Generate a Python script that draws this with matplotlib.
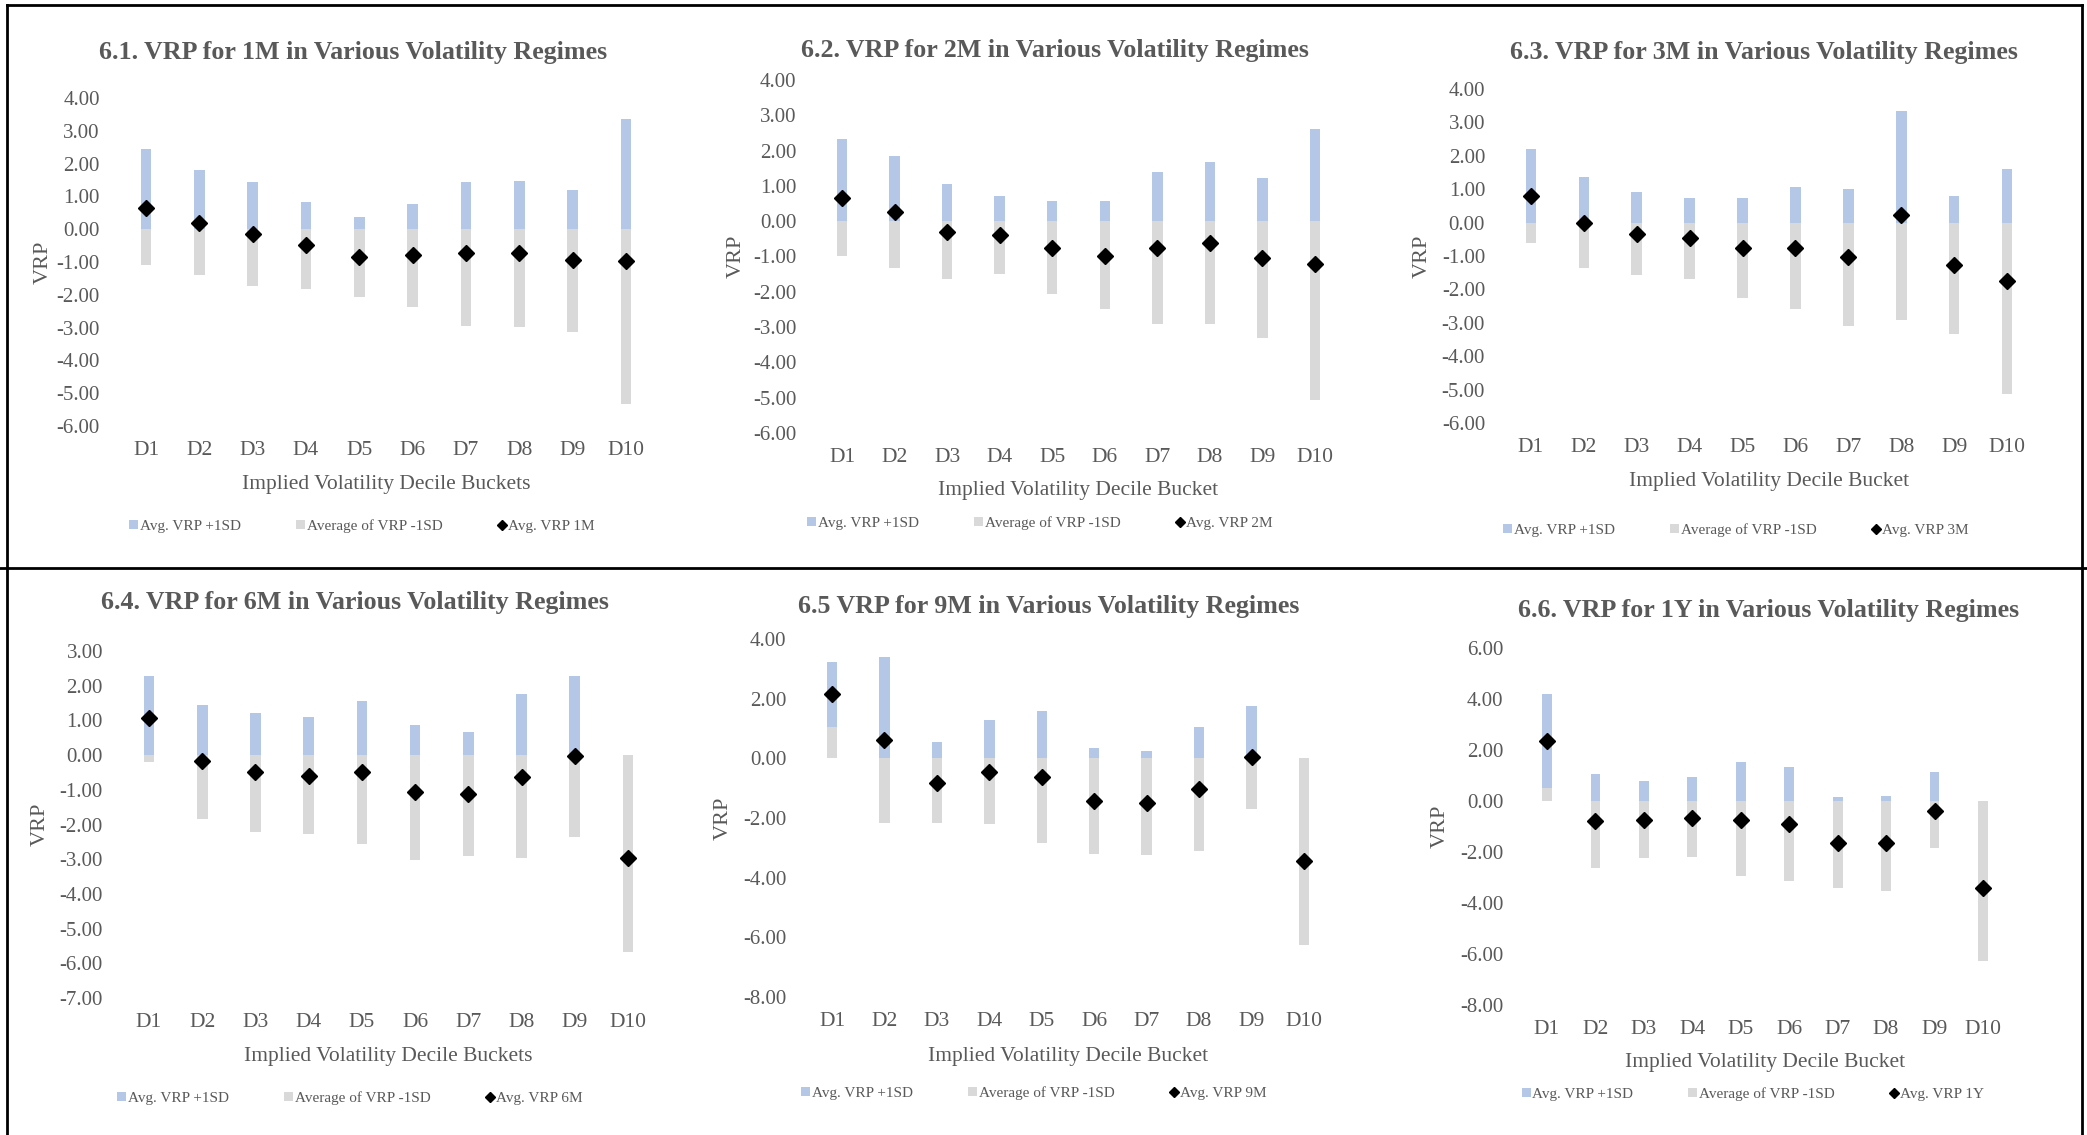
import matplotlib
matplotlib.use("Agg")
import matplotlib.pyplot as plt
from matplotlib.lines import Line2D
from matplotlib.patches import Patch

# ---------------- data ----------------
categories = ['D1', 'D2', 'D3', 'D4', 'D5', 'D6', 'D7', 'D8', 'D9', 'D10']

upper_1m = [2.45, 1.80, 1.45, 0.83, 0.38, 0.78, 1.45, 1.47, 1.20, 3.36]
lower_1m = [-1.10, -1.40, -1.73, -1.81, -2.08, -2.38, -2.95, -2.97, -3.12, -5.34]
avg_1m = [0.66, 0.20, -0.15, -0.49, -0.84, -0.79, -0.73, -0.74, -0.95, -0.98]

upper_2m = [2.33, 1.86, 1.04, 0.71, 0.56, 0.56, 1.39, 1.67, 1.23, 2.61]
lower_2m = [-0.98, -1.32, -1.64, -1.49, -2.05, -2.50, -2.92, -2.91, -3.32, -5.06]
avg_2m = [0.67, 0.27, -0.30, -0.40, -0.75, -0.98, -0.77, -0.61, -1.04, -1.22]

upper_3m = [2.20, 1.38, 0.92, 0.74, 0.73, 1.07, 1.02, 3.34, 0.79, 1.60]
lower_3m = [-0.60, -1.37, -1.56, -1.68, -2.27, -2.60, -3.11, -2.91, -3.33, -5.12]
avg_3m = [0.79, 0.00, -0.33, -0.47, -0.77, -0.76, -1.03, 0.22, -1.27, -1.76]

upper_6m = [2.29, 1.45, 1.22, 1.11, 1.56, 0.86, 0.67, 1.75, 2.29, -0.27]
lower_6m = [-0.20, -1.83, -2.23, -2.26, -2.55, -3.01, -2.92, -2.97, -2.36, -5.67]
avg_6m = [1.06, -0.18, -0.50, -0.59, -0.50, -1.07, -1.12, -0.62, -0.04, -2.97]

upper_9m = [3.24, 3.38, 0.55, 1.30, 1.57, 0.34, 0.24, 1.05, 1.76, -0.60]
lower_9m = [1.05, -2.18, -2.18, -2.21, -2.83, -3.19, -3.24, -3.09, -1.69, -6.26]
avg_9m = [2.14, 0.61, -0.83, -0.46, -0.64, -1.43, -1.50, -1.02, 0.03, -3.43]

upper_1y = [4.20, 1.06, 0.79, 0.96, 1.51, 1.35, 0.15, 0.20, 1.15, -0.58]
lower_1y = [0.52, -2.64, -2.25, -2.21, -2.96, -3.13, -3.42, -3.52, -1.86, -6.26]
avg_1y = [2.36, -0.79, -0.74, -0.65, -0.75, -0.90, -1.63, -1.65, -0.38, -3.42]

titles = ['6.1. VRP for 1M in Various Volatility Regimes',
          '6.2. VRP for 2M in Various Volatility Regimes',
          '6.3. VRP for 3M in Various Volatility Regimes',
          '6.4. VRP for 6M in Various Volatility Regimes',
          '6.5 VRP for 9M in Various Volatility Regimes',
          '6.6. VRP for 1Y in Various Volatility Regimes']
xlabels = ['Implied Volatility Decile Buckets', 'Implied Volatility Decile Bucket',
           'Implied Volatility Decile Bucket', 'Implied Volatility Decile Buckets',
           'Implied Volatility Decile Bucket', 'Implied Volatility Decile Bucket']
avg_labels = ['Avg. VRP 1M', 'Avg. VRP 2M', 'Avg. VRP 3M',
              'Avg. VRP 6M', 'Avg. VRP 9M', 'Avg. VRP 1Y']
upper_label = 'Avg. VRP +1SD'
lower_label = 'Average of VRP -1SD'

uppers = [upper_1m, upper_2m, upper_3m, upper_6m, upper_9m, upper_1y]
lowers = [lower_1m, lower_2m, lower_3m, lower_6m, lower_9m, lower_1y]
avgs = [avg_1m, avg_2m, avg_3m, avg_6m, avg_9m, avg_1y]

# y ranges (min, max, step) of each panel
yranges = [(-6, 4, 1), (-6, 4, 1), (-6, 4, 1), (-7, 3, 1), (-8, 4, 2), (-8, 6, 2)]

# ---------------- layout (pixels in the 2087x1135 canvas) ----------------
W, H = 2087, 1135
layout = [
    dict(d1=146, d10=626, top=98, bot=426, tx=353, ty=53, xly=485, ylx=43, lgx=362, lgy=526),
    dict(d1=842, d10=1315, top=80, bot=433, tx=1055, ty=50, xly=491, ylx=736, lgx=1040, lgy=523),
    dict(d1=1531, d10=2007, top=89, bot=423, tx=1764, ty=53, xly=482, ylx=1422, lgx=1736, lgy=530),
    dict(d1=149, d10=628, top=651, bot=998, tx=355, ty=603, xly=1057, ylx=40, lgx=350, lgy=1098),
    dict(d1=832, d10=1304, top=639, bot=997, tx=1049, ty=606, xly=1056, ylx=723, lgx=1034, lgy=1093),
    dict(d1=1547, d10=1983, top=648, bot=1005, tx=1769, ty=610, xly=1062, ylx=1440, lgx=1753, lgy=1094),
]

BLUE = '#B4C7E7'
GREY = '#D9D9D9'
TXT = '#595959'
FONT = ['Liberation Serif', 'DejaVu Serif']
plt.rcParams['font.family'] = FONT

fig = plt.figure(figsize=(W / 100, H / 100), dpi=100)
fig.patch.set_facecolor('white')

def fx(px):
    return px / W

def fy(py):
    return 1 - py / H

x_idx = list(range(len(categories)))

for i in range(6):
    L = layout[i]
    sp = (L['d10'] - L['d1']) / 9.0
    left = L['d1'] - 0.5 * sp
    right = L['d10'] + 0.5 * sp
    ax = fig.add_axes([fx(left), fy(L['bot']), (right - left) / W, (L['bot'] - L['top']) / H])
    ax.bar(x_idx, uppers[i], width=0.2, color=BLUE, zorder=2, label=upper_label)
    ax.bar(x_idx, lowers[i], width=0.2, color=GREY, zorder=3, label=lower_label)
    ax.plot(x_idx, avgs[i], linestyle='none', marker='D', markersize=7.8,
            color='black', zorder=4, label=avg_labels[i])
    ymin, ymax, step = yranges[i]
    ax.set_ylim(ymin, ymax)
    ax.set_xlim(-0.5, 9.5)
    ticks = list(range(ymin, ymax + 1, step))
    ax.set_yticks(ticks)
    ax.set_yticklabels([f'{t:.2f}' for t in ticks])
    ax.set_xticks(x_idx)
    ax.set_xticklabels(categories)
    for s in ax.spines.values():
        s.set_visible(False)
    ax.tick_params(axis='both', length=0, labelcolor=TXT)
    ax.tick_params(axis='y', pad=14, labelsize=15)
    ax.tick_params(axis='x', pad=11, labelsize=15.5)
    ax.set_facecolor('none')

    ax.set_xlabel(xlabels[i], fontsize=15.5, color=TXT)
    ax.xaxis.set_label_coords(fx((left + right) / 2), fy(L['xly']), transform=fig.transFigure)
    ax.xaxis.label.set_va('center')
    ax.set_ylabel('VRP', fontsize=16, color=TXT)
    ax.yaxis.set_label_coords(fx(L['ylx']), fy((L['top'] + L['bot']) / 2), transform=fig.transFigure)
    ax.yaxis.label.set_va('center')
    ax.yaxis.label.set_ha('center')

    fig.text(fx(L['tx']), fy(L['ty']), titles[i], ha='center', va='center',
             fontsize=18.7, fontweight='bold', color=TXT)

    handles = [Patch(facecolor=BLUE, edgecolor='none'),
               Patch(facecolor=GREY, edgecolor='none'),
               Line2D([], [], linestyle='none', marker='D', markersize=5, color='black')]
    ax.legend(handles, [upper_label, lower_label, avg_labels[i]], ncol=3,
              loc='center', bbox_to_anchor=(fx(L['lgx']), fy(L['lgy'])),
              bbox_transform=fig.transFigure, frameon=False, fontsize=11,
              labelcolor=TXT, handlelength=0.6, handleheight=0.6,
              handletextpad=0.1, columnspacing=3.6)

# frame lines of the composite
border_kw = dict(transform=fig.transFigure, color='black', linewidth=2)
fig.add_artist(Line2D([fx(7), fx(2082)], [fy(5), fy(5)], **border_kw))
fig.add_artist(Line2D([fx(7), fx(7)], [fy(5), fy(H)], **border_kw))
fig.add_artist(Line2D([fx(2082), fx(2082)], [fy(5), fy(H)], **border_kw))
fig.add_artist(Line2D([fx(0), fx(W)], [fy(568), fy(568)], **border_kw))

fig.savefig('out.png', dpi=100, facecolor='white')
